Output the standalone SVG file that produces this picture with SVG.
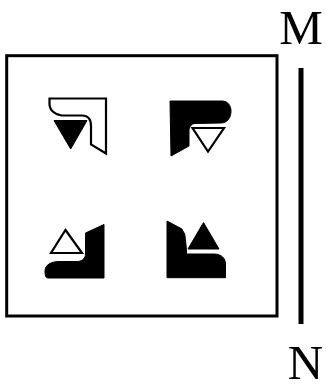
<svg xmlns="http://www.w3.org/2000/svg" width="326" height="390" viewBox="0 0 326 390">
<style>
.frame{fill:none;stroke:#000;stroke-width:3}
.solid{fill:#000;stroke:#000;stroke-width:1;stroke-linejoin:round}
.hollow{fill:#fff;stroke:#000;stroke-width:2.2;stroke-linejoin:miter}
.lbl{font-family:"Liberation Serif","Times New Roman",serif;font-size:49px;fill:#000}
</style>
<rect width="326" height="390" fill="#fff"/>
<g id="frame"><rect class="frame" x="6.7" y="55.7" width="270.3" height="260.3"/></g>
<g id="glyph-top-left">
<path class="hollow" d="M49.5,98.5 L106,98.5 L106,153.5 L91,144.5 L91,126 C91,119 88,115.5 82,115.5 L62,115.5 C55,115 49.5,110 49.5,104 Z"/>
<path class="solid" d="M54,120.5 L87,120.5 L70.7,149 Z"/>
</g>
<g id="glyph-top-right">
<path class="solid" d="M170,101 L222,101 C228,101 231,106 231,111 C231,118 227,123 221,123 L195,123.5 C191,124 189,127 189,131 L189,146 L171,156 Z"/>
<path class="hollow" d="M192.5,128 L224,128 L208,151.5 Z"/>
</g>
<g id="glyph-bottom-left">
<path class="hollow" d="M65.5,230 L82,253 L51,253 Z"/>
<path class="solid" d="M104,224.5 L104,278 L48,278 C45.5,278 45,275 45,271 C45,265 51,261.5 59,261.5 L78,261.5 C82.5,261 85.5,258 85.5,254 L85.5,233 Z"/>
</g>
<g id="glyph-bottom-right">
<path class="solid" d="M167,221 L182,229 C183,232 185,233 185,236 L186.5,249.5 L186.5,254 L214,254 C221,254 225.5,258 225.5,264 L225.5,277.7 L167,277.7 Z"/>
<path class="solid" d="M203.5,222.5 L219,249 L188,249 Z"/>
</g>
<g id="connectors">
<line x1="301" y1="68" x2="301" y2="324" stroke="#000" stroke-width="5"/>
</g>
<g id="label-M"><text class="lbl" x="301" y="44" text-anchor="middle">M</text></g>
<g id="label-N"><text class="lbl" x="305.5" y="378.5" text-anchor="middle">N</text></g>
</svg>
